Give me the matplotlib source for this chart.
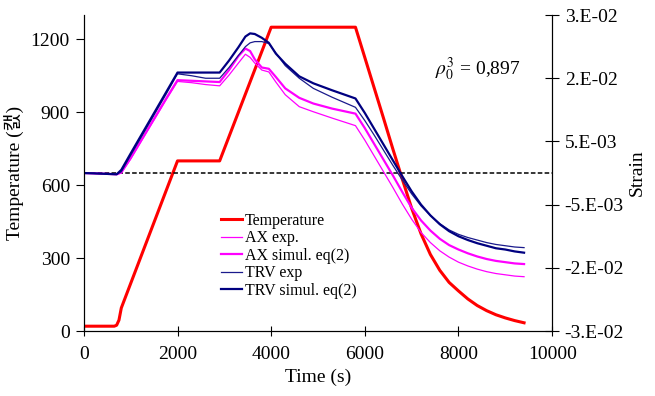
import matplotlib
matplotlib.use('Agg')
import matplotlib.pyplot as plt

plt.rcParams['font.family'] = ['Liberation Serif', 'Noto Sans CJK KR']
plt.rcParams['mathtext.fontset'] = 'stix'

# temperature program (left axis)
temp_t = [0, 650, 700, 750, 800, 2000, 2900, 4000, 5800, 6000, 6200, 6400, 6600, 6800,
          7000, 7200, 7400, 7600, 7800, 8000, 8200, 8400, 8600, 8800, 9000, 9200, 9400]
temp_v = [20, 20, 24, 45, 95, 700, 700, 1250, 1250, 1125, 1000, 875, 748, 625,
          505, 400, 315, 250, 200, 165, 132, 105, 84, 67, 54, 43, 34]

# strain curves (right axis)
strain_t = [0, 400, 700, 800, 1000, 1250, 1500, 1750, 2000, 2300, 2600, 2900,
            3100, 3300, 3450, 3550, 3650, 3800, 3950, 4100, 4300, 4600, 4900, 5300, 5800,
            6000, 6200, 6400, 6600, 6800, 7000, 7200, 7400, 7600, 7800, 8000, 8200,
            8400, 8600, 8800, 9000, 9200, 9400]
trv_sim = [0.0000, -0.0001, -0.0002, 0.0005, 0.0031, 0.0063, 0.0095, 0.0127, 0.0159,
           0.0159, 0.0159, 0.0159,
           0.0178, 0.0199, 0.0216, 0.0221, 0.0220, 0.0214, 0.0206,
           0.0189, 0.0173, 0.0153, 0.0142, 0.0131, 0.0118,
           0.0095, 0.0070, 0.0045, 0.0020, -0.0005, -0.0029, -0.0050, -0.0067, -0.0081,
           -0.0092, -0.0100, -0.0106, -0.0111, -0.0115, -0.0119, -0.0121, -0.0124, -0.0126]
trv_exp = [0.0000, -0.0001, -0.0002, 0.0002, 0.0028, 0.0060, 0.0092, 0.0124, 0.0157,
           0.0154, 0.0150, 0.0150,
           0.0167, 0.0186, 0.0200, 0.0206, 0.0208, 0.0208, 0.0205,
           0.0190, 0.0170, 0.0150, 0.0134, 0.0120, 0.0104,
           0.0083, 0.0060, 0.0036, 0.0012, -0.0011, -0.0033, -0.0052, -0.0067, -0.0080,
           -0.0090, -0.0097, -0.0102, -0.0106, -0.0110, -0.0113, -0.0115, -0.0117, -0.0118]
ax_sim = [0.0000, -0.0001, -0.0002, 0.0001, 0.0024, 0.0055, 0.0086, 0.0117, 0.0147,
          0.0146, 0.0145, 0.0144,
          0.0163, 0.0185, 0.0197, 0.0193, 0.0180, 0.0167, 0.0165,
          0.0152, 0.0134, 0.0119, 0.0110, 0.0102, 0.0094,
          0.0071, 0.0046, 0.0021, -0.0004, -0.0030, -0.0055, -0.0075, -0.0091, -0.0104,
          -0.0114, -0.0121, -0.0127, -0.0132, -0.0136, -0.0139, -0.0141, -0.0143, -0.0144]
ax_exp = [0.0000, -0.0001, -0.0002, 0.0000, 0.0022, 0.0053, 0.0084, 0.0115, 0.0145,
          0.0143, 0.0140, 0.0138,
          0.0155, 0.0174, 0.0188, 0.0183, 0.0174, 0.0163, 0.0160,
          0.0144, 0.0124, 0.0105, 0.0097, 0.0087, 0.0075,
          0.0052, 0.0027, 0.0002, -0.0023, -0.0049, -0.0073, -0.0094, -0.0110, -0.0123,
          -0.0133, -0.0141, -0.0147, -0.0152, -0.0156, -0.0159, -0.0161, -0.0163, -0.0164]

x_ticks = [0, 2000, 4000, 6000, 8000, 10000]
temp_ticks = [0, 300, 600, 900, 1200]
strain_ticks = [-0.025, -0.015, -0.005, 0.005, 0.015, 0.025]
strain_labels = ['-3.E-02', '-2.E-02', '-5.E-03', '5.E-03', '2.E-02', '3.E-02']

fig, ax = plt.subplots(figsize=(6.55, 3.96), dpi=100)
fig.subplots_adjust(left=0.128, right=0.843, bottom=0.164, top=0.962)
ax2 = ax.twinx()

l_temp, = ax.plot(temp_t, temp_v, color='#ff0000', lw=2.2, label='Temperature')
ax2.axhline(0, color='black', lw=1.1, ls=(0, (3, 1.5)))
l1, = ax2.plot(strain_t, ax_exp, color='#ff00ff', lw=0.9, label='AX exp.')
l2, = ax2.plot(strain_t, ax_sim, color='#ff00ff', lw=1.6, label='AX simul. eq(2)')
l3, = ax2.plot(strain_t, trv_exp, color='#1a1a8c', lw=0.9, label='TRV exp')
l4, = ax2.plot(strain_t, trv_sim, color='#000080', lw=1.6, label='TRV simul. eq(2)')

ax.set_xlim(0, 10000)
ax.set_ylim(0, 1300)
ax2.set_ylim(-0.025, 0.025)
ax.set_xticks(x_ticks)
ax.set_yticks(temp_ticks)
ax2.set_yticks(strain_ticks)
ax2.set_yticklabels(strain_labels)

for a in (ax, ax2):
    a.spines['top'].set_visible(False)
ax.tick_params(axis='x', direction='inout', length=7, labelsize=14, pad=7)
ax.tick_params(axis='y', direction='out', length=6, labelsize=14, pad=4)
ax2.tick_params(axis='y', direction='inout', length=10, labelsize=14, pad=4)

ax.set_xlabel('Time (s)', fontsize=14, labelpad=4)
ax.set_ylabel('Temperature (캜)', fontsize=14, labelpad=4)
ax2.set_ylabel('Strain', fontsize=14, labelpad=3)

ax2.text(7500, 0.0155, r'$\rho_0^3$ = 0,897', fontsize=14)

ax2.legend(handles=[l_temp, l1, l2, l3, l4], loc='upper left',
           bbox_to_anchor=(0.27, 0.41), frameon=False, fontsize=11.5,
           handlelength=1.3, handletextpad=0.15, labelspacing=0.1, borderpad=0.2)

plt.savefig('out.png', dpi=100)
